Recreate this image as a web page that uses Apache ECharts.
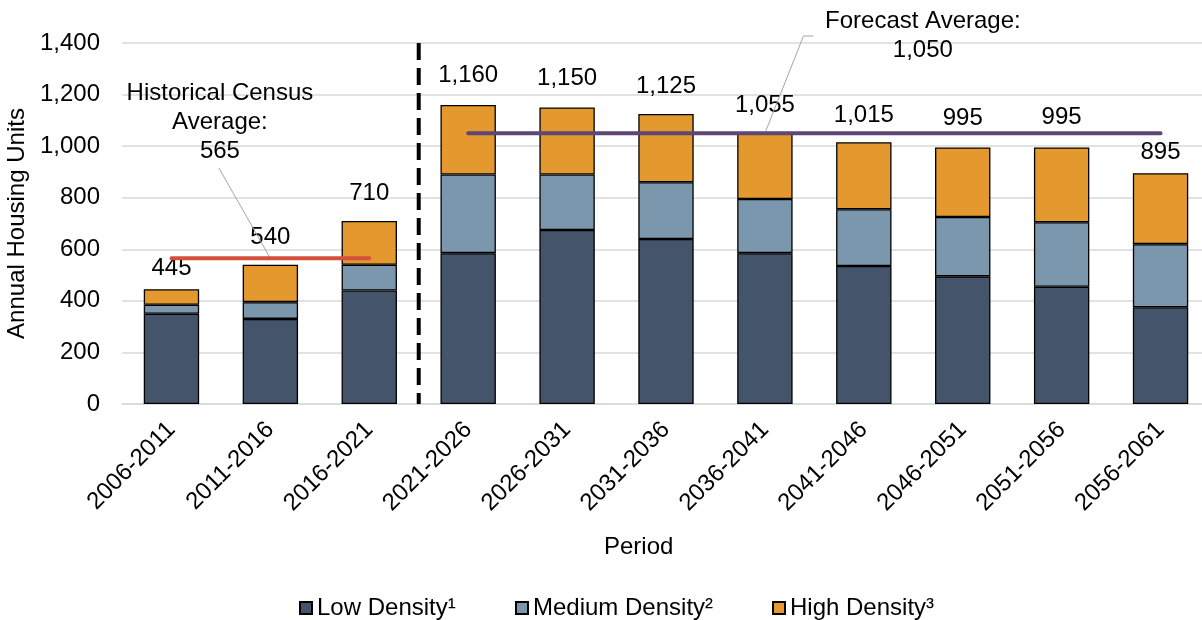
<!DOCTYPE html>
<html><head><meta charset="utf-8">
<script src="https://cdn.jsdelivr.net/npm/echarts@6/dist/echarts.min.js"></script>
<style>html,body{margin:0;padding:0;background:#fff}#c{width:1202px;height:620px}</style>
</head><body><div id="c"></div>
<script>
// ---- data ----
const periods = ['2006-2011','2011-2016','2016-2021','2021-2026','2026-2031','2031-2036','2036-2041','2041-2046','2046-2051','2051-2056','2056-2061'];
const lowDensity    = [350, 330, 440, 585, 675, 640, 585, 535, 495, 455, 375];
const mediumDensity = [ 35,  65, 100, 305, 215, 220, 210, 220, 230, 250, 245];
const highDensity   = [ 60, 145, 170, 270, 260, 265, 260, 260, 270, 290, 275];
const seriesNames = ['Low Density¹', 'Medium Density²', 'High Density³'];
const historicalAverage = 565;
const forecastAverage = 1050;
const historicalPeriods = 3;
const yMin = 0, yMax = 1400, yInterval = 200;

// ---- styles ----
const FONT = "'Liberation Sans', Arial, sans-serif";
const labelGap = [9, 15, 16, 18, 17, 16, 15, 15, 17, 18, 9];
const legendLeft = [299, 515, 772];
const fmt = v => Number(v).toLocaleString('en-US');
const totals = periods.map((_, i) => lowDensity[i] + mediumDensity[i] + highDensity[i]);

const histLine = periods.map((_, i) => i < historicalPeriods ? historicalAverage : '-');
const foreLine = periods.map((_, i) => i >= historicalPeriods ? forecastAverage : '-');

const barStyle = c => ({ color: c, borderColor: '#000', borderWidth: 1.3 });
const annoText = { color: '#000', fontSize: 24, fontFamily: FONT, lineHeight: 29 };

const chart = echarts.init(document.getElementById('c'), null, { renderer: 'canvas' });
chart.setOption({
  animation: false,
  backgroundColor: '#fff',
  textStyle: { fontFamily: FONT },
  grid: { left: 122, top: 43, width: 1088, height: 361, containLabel: false, outerBoundsMode: 'none' },
  legend: seriesNames.map((n, i) => ({
    data: [n], top: 596, left: legendLeft[i], icon: 'rect', itemWidth: 12, itemHeight: 12,
    itemTextGap: 6, padding: 0,
    textStyle: { fontSize: 24, color: '#000', fontFamily: FONT }
  })),
  xAxis: [{
    type: 'category', data: periods,
    axisLine: { lineStyle: { color: '#d9d9d9', width: 1.5 } },
    axisTick: { show: false },
    axisLabel: { rotate: 45, margin: 22, fontSize: 24, color: '#000', fontFamily: FONT, interval: 0 }
  }, {
    type: 'value', min: 0, max: periods.length, show: false
  }],
  yAxis: {
    type: 'value', min: yMin, max: yMax, interval: yInterval,
    name: 'Annual Housing Units', nameLocation: 'middle', nameRotate: 90, nameGap: 92,
    nameTextStyle: { fontSize: 24, color: '#000', fontFamily: FONT },
    axisLine: { show: false }, axisTick: { show: false },
    axisLabel: { fontSize: 24, color: '#000', margin: 22, fontFamily: FONT, formatter: v => fmt(v) },
    splitLine: { lineStyle: { color: '#d9d9d9', width: 1.5 } }
  },
  graphic: [{
    type: 'text', left: 641 - 37, top: 535,
    style: { text: 'Period', fontSize: 24, fill: '#000', fontFamily: FONT }
  }],
  series: [
    { name: seriesNames[0], type: 'bar', stack: 'u', barWidth: '56%', data: lowDensity, itemStyle: barStyle('#44546a') },
    { name: seriesNames[1], type: 'bar', stack: 'u', data: mediumDensity, itemStyle: barStyle('#7b97ad') },
    { name: seriesNames[2], type: 'bar', stack: 'u', itemStyle: barStyle('#e4992e'),
      data: highDensity.map((v, i) => ({ value: v, label: { distance: labelGap[i] } })),
      label: { show: true, position: 'top', fontSize: 24, color: '#000', fontFamily: FONT,
               formatter: p => fmt(totals[p.dataIndex]) } },
    { name: 'hist', type: 'line', data: histLine, symbol: 'none', z: 5,
      lineStyle: { color: '#d5503a', width: 4, cap: 'round' } },
    { name: 'fore', type: 'line', data: foreLine, symbol: 'none', z: 5,
      lineStyle: { color: '#5e4676', width: 4, cap: 'round' } },
    { name: 'divider', type: 'line', xAxisIndex: 1, symbol: 'none', silent: true, z: 5,
      data: [[historicalPeriods, yMax], [historicalPeriods, yMin]],
      lineStyle: { color: '#000', width: 4, type: [17, 8] } },
    { name: 'histLeader', type: 'line', xAxisIndex: 1, clip: false, silent: true, z: 4,
      symbol: 'circle', symbolSize: 1, itemStyle: { color: 'rgba(0,0,0,0)' },
      lineStyle: { color: '#a6a6a6', width: 1 },
      data: [
        { value: [0.98, 915], label: { show: true, position: 'top', distance: 2, offset: [1, 0], align: 'center',
          formatter: 'Historical Census\nAverage:\n' + fmt(historicalAverage), ...annoText } },
        [1.5, historicalAverage]
      ] },
    { name: 'foreLeader', type: 'line', xAxisIndex: 1, clip: false, silent: true, z: 4,
      symbol: 'circle', symbolSize: 1, itemStyle: { color: 'rgba(0,0,0,0)' },
      lineStyle: { color: '#a6a6a6', width: 1 },
      data: [
        { value: [6.99, 1427], label: { show: true, position: 'right', distance: 0, offset: [109, 0], align: 'center',
          formatter: 'Forecast Average:\n' + fmt(forecastAverage), ...annoText } },
        [6.89, 1427],
        [6.5, forecastAverage]
      ] }
  ]
});
</script></body></html>
